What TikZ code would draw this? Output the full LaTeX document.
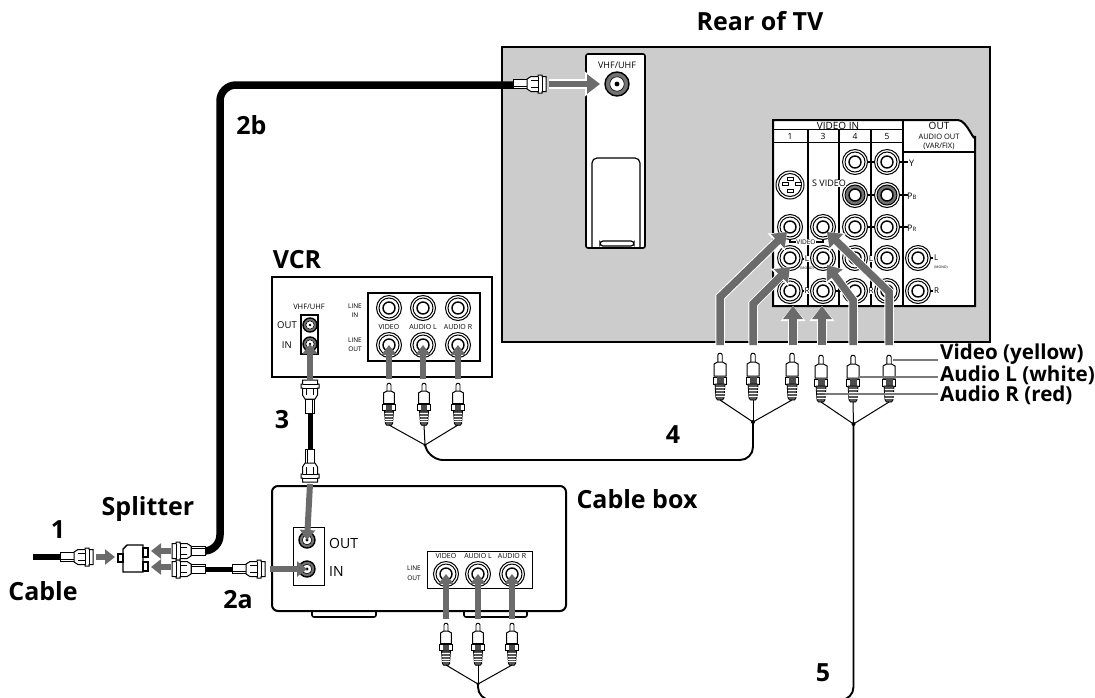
\documentclass[tikz,border=0pt]{standalone}
\usepackage{fontspec}
\setmainfont{Open Sans}
\usetikzlibrary{calc}
\usetikzlibrary{arrows.meta}
\definecolor{panelgray}{gray}{0.8}
\definecolor{feedgray}{gray}{0.42}
\tikzset{
  title/.style={font=\bfseries\fontsize{25}{25}\selectfont, inner sep=0pt},
  tag/.style={font=\bfseries\fontsize{20.6}{20.6}\selectfont, anchor=west, inner sep=0pt},
  small/.style={font=\fontsize{#1}{#1}\selectfont, inner sep=0pt, align=center},
  small/.default=8,
  backed/.style={small=#1, fill=white, inner sep=0.6pt},
  feed/.style={draw=feedgray, line width=7.5pt, -{Triangle[length=13pt,width=19pt]},
    preaction={draw=white, line width=9.5pt, -{Triangle[length=15pt,width=24pt]}}},
  thinfeed/.style={draw=feedgray, line width=6pt, -{Triangle[length=10pt,width=15pt]}},
  leader/.style={draw=feedgray!90, line width=1.5pt},
  wire/.style={line width=1pt},
  cord/.style={line width=1.9pt, rounded corners=13pt},
  coax/.style={line width=#1, rounded corners=16pt},
}
% jacks and plugs, all sizes in pixels of the reference
\newcommand{\rcajack}[2][white]{
  \begin{scope}[shift={(#2)}]
    \filldraw[line width=1pt, fill=white] (0,0) circle (12.5pt);
    \filldraw[line width=1pt, fill=#1] (0,0) circle (10pt);
    \filldraw[line width=1.4pt, fill=white] (0,0) circle (6pt);
  \end{scope}
}
\newcommand{\coaxjack}[2][7]{
  \begin{scope}[shift={(#2)}]
    \filldraw[line width=1.4pt, fill=black!55] (0,0) circle (#1pt);
    \filldraw[line width=0.6pt, fill=white] (0,0) circle (0.6*#1pt);
    \fill (0,0) circle (0.2*#1pt);
  \end{scope}
}
\newcommand{\rcaplug}[2][1]{
  \begin{scope}[shift={(#2)}, scale=#1]
    \filldraw[line width=0.9pt, fill=white, rounded corners=1pt] (-2.2,9) -- (-2.2,1) -- (0,0) -- (2.2,1) -- (2.2,9);
    \filldraw[line width=1pt, fill=white] (-6,23) -- (-6,11) -- (-2.5,9) -- (2.5,9) -- (6,11) -- (6,23) -- cycle;
    \filldraw[line width=1pt, fill=white] (-6.8,24) rectangle (6.8,31);
    \fill[black!70] (-3.5,24) rectangle (3.5,31);
    \filldraw[line width=0.8pt, fill=black!65] (-5,31) -- (5,31) -- (4,45) -- (2.5,47) -- (-2.5,47) -- (-4,45) -- cycle;
    \foreach \y in {34,37,40,43}
      \draw[white, line width=0.7pt] (-4.5,\y) -- (4.5,\y);
  \end{scope}
}
\newcommand{\fplug}[2]{
  \begin{scope}[shift={(#1)}, rotate=#2]
    \filldraw[line width=1pt, fill=white] (0,-4.5) rectangle (14,4.5);
    \draw[line width=0.5pt] (0,2.5) -- (14,2.5);
    \filldraw[line width=1pt, fill=white] (14,-5) -- (18,-7.5) -- (25,-7.5) -- (25,-9) -- (29,-9) -- (29,-7.5) -- (33,-7.5) -- (33,7.5) -- (29,7.5) -- (29,9) -- (25,9) -- (25,7.5) -- (18,7.5) -- (14,5) -- cycle;
    \draw[line width=0.7pt] (25,-7.5) -- (25,7.5) (29,-7.5) -- (29,7.5);
    \draw[line width=0.5pt] (18,3.5) -- (25,3.5) (18,-3.5) -- (25,-3.5);
  \end{scope}
}
\begin{document}
\begin{tikzpicture}[x=1pt, y=-1pt]
  \useasboundingbox (0,0) rectangle (1095,697);
  % named places
  \coordinate (tv-vhf) at (617,84);
  \coordinate (vcr-out) at (310,325);
  \coordinate (vcr-in) at (310,344);
  \coordinate (box-out) at (307,540);
  \coordinate (box-in) at (307,569);
  \coordinate (vcr-hub) at (425,445);
  \coordinate (tv-hub-a) at (753,422);
  \coordinate (tv-hub-b) at (853.5,424);
  \coordinate (box-hub) at (478,684);

  % rear of TV
  \filldraw[line width=2pt, fill=panelgray] (502,47) rectangle (990,342);
  \filldraw[line width=1.6pt, fill=white, rounded corners=2pt] (586,54) rectangle (645,248);
  \draw[line width=1.2pt, rounded corners=5pt] (592,248) -- (592,158) -- (640,158) -- (640,248);
  \draw[line width=1.2pt, rounded corners=3pt] (600,246) -- (600,241) -- (634,241) -- (634,246) -- cycle;
  \node[small=9] (vhf text) at (617,65) {VHF/UHF};
  \coaxjack[12]{tv-vhf}

  % input panel of the TV
  \filldraw[line width=2pt, fill=white] (773,120) -- (958,120) to[out=0, in=-90] (975,136) -- (975,306) -- (773,306) -- cycle;
  \draw[line width=1.8pt] (773,129.5) -- (903,129.5) (773,142.5) -- (903,142.5) (903,152) -- (975,152);
  \foreach \x in {808,839,871}
    \draw[line width=1.8pt] (\x,130) -- (\x,306);
  \draw[line width=1.8pt] (903,120) -- (903,306);
  \node[small=10] (video in) at (838,125.5) {VIDEO IN};
  \node[small=10] (out text) at (939,125.5) {OUT};
  \node[small=8.5] at (790,136.5) (num 1) {1};
  \node[small=8.5] at (823,136.5) (num 3) {3};
  \node[small=8.5] at (855,136.5) (num 4) {4};
  \node[small=8.5] at (887,136.5) (num 5) {5};
  \node[small=7.5] (audio out) at (939,141.5) {AUDIO OUT\\[1.5pt](VAR/FIX)};
  \foreach \name/\x in {a/790,b/823,c/855,d/887,e/918}
    \foreach \row/\y in {1/162,2/195,3/227,4/258,5/291}
      \coordinate (tv-\name\row) at (\x,\y);
  \foreach \y in {162,195,227,258}
    \draw[line width=1.6pt] (865,\y) -- (877,\y);
  \foreach \y in {162,195,227}
    \draw[line width=1.6pt] (897,\y) -- (908,\y);
  \draw[line width=1.6pt] (803,291) -- (806,291) (800,259) -- (804,259) (832,291) -- (845,291) (930,258) -- (933,258) (930,291) -- (933,291);
  \draw[line width=1.6pt] (790,238) -- (790,242) -- (796,242) (815,242) -- (823,242) -- (823,238);
  \foreach \spot in {tv-c1,tv-d1,tv-c3,tv-d3,tv-a3,tv-b3,tv-a4,tv-b4,tv-c4,tv-d4,tv-e4,tv-a5,tv-b5,tv-c5,tv-d5,tv-e5} {
    \rcajack{\spot}
  }
  \rcajack[black!55]{tv-c2}
  \rcajack[black!55]{tv-d2}
  \begin{scope}[shift={(790,185)}]
    \filldraw[line width=1pt, fill=white] (0,0) circle (14pt);
    \filldraw[line width=1pt, fill=white] (0,0) circle (11.5pt);
    \foreach \a/\b in {-3/-8,-8/-3,5/-3,-3/4}
      \filldraw[line width=0.8pt, fill=white] (\a,\b) rectangle ++(6,3.5);
  \end{scope}
  \node[backed=9] (svideo text) at (829,183.5) {S VIDEO};
  \node[small=9, anchor=west] (y text) at (909,163) {Y};
  \node[small=9, anchor=west] (pb text) at (907,196) {P{\fontsize{6}{6}\selectfont B}};
  \node[small=9, anchor=west] (pr text) at (907,228) {P{\fontsize{6}{6}\selectfont R}};
  \node[backed=6.5] (video tag) at (806,242) {VIDEO};
  \node[backed=8] (l tag a) at (807,259) {L};
  \node[backed=8] (l tag b) at (871,259) {L};
  \node[backed=8] (r tag a) at (807,291) {R};
  \node[backed=8] (r tag b) at (871,291) {R};
  \node[small=8, anchor=west] (l tag c) at (934,258) {L};
  \node[small=8, anchor=west] (r tag c) at (934,291) {R};
  \node[small=3.5] (mono a) at (807,269) {(MONO)};
  \node[small=3.5] (mono b) at (941,268) {(MONO)};

  % VCR
  \draw[line width=1.2pt] (272,277) rectangle (492,377);
  \draw[line width=1.2pt] (368,293) rectangle (480,361);
  \draw[line width=1.2pt] (301,315) rectangle (318,354);
  \node[small=7.5] (vcr vhf) at (309,307) {VHF/UHF};
  \node[small=9.5, anchor=east] (vcr out text) at (297,325) {OUT};
  \node[small=9.5, anchor=east] (vcr in text) at (292,345) {IN};
  \node[small=6.5] (vcr line in) at (355,310.5) {LINE\\[3pt]IN};
  \node[small=6.5] (vcr line out) at (355,344.5) {LINE\\[3pt]OUT};
  \coaxjack{vcr-out}
  \coaxjack{vcr-in}
  \foreach \name/\x/\lab in {a/389/VIDEO,b/423/AUDIO L,c/458/AUDIO R} {
    \coordinate (vcr-\name1) at (\x,308);
    \coordinate (vcr-\name2) at (\x,345);
    \rcajack{vcr-\name1}
    \rcajack{vcr-\name2}
    \node[small=7] at (\x,327) {\lab};
  }

  % cable box
  \draw[line width=2pt, rounded corners=6pt] (566,611) -- (566,486) -- (272,486) -- (272,611) -- cycle;
  \draw[line width=1.6pt, rounded corners=2pt] (312,611) -- (312,617) -- (376,617) -- (376,611);
  \draw[line width=1.6pt, rounded corners=2pt] (464,611) -- (464,617) -- (527,617) -- (527,611);
  \draw[line width=0.8pt] (293,527) rectangle (324,585);
  \draw[line width=0.8pt] (427,551) rectangle (532,588);
  \node[small=14, anchor=west] (box out text) at (329,543) {OUT};
  \node[small=14, anchor=west] (box in text) at (329,571) {IN};
  \node[small=6.5] (box line out) at (414,573) {LINE\\[3pt]OUT};
  \coaxjack[8]{box-out}
  \coaxjack[8]{box-in}
  \foreach \name/\x/\lab in {a/446/VIDEO,b/478/AUDIO L,c/512/AUDIO R} {
    \coordinate (box-\name) at (\x,574);
    \rcajack{box-\name}
    \node[small=7] at (\x,556) {\lab};
  }

  % aerial leads
  \draw[coax=6pt] (33,557) -- (62,557);
  \draw[coax=7.5pt] (203,551) -| (220,85) -- (513,85);
  \draw[coax=5pt] (203,569) -- (234,569);
  \draw[line width=5pt] (310,412) -- (310,449);

  % splitter
  \draw[line width=1.2pt] (118,554) rectangle (123,562);
  \draw[line width=1.2pt] (143,548) rectangle (148,557);
  \draw[line width=1.2pt] (143,562) rectangle (148,571);
  \draw[line width=1.4pt] (123,549) -- (127,545) -- (143,545) -- (143,572) -- (123,572) -- cycle;

  % coax plugs
  \fplug{60,557}{0}
  \fplug{205,551}{180}
  \fplug{205,569}{180}
  \fplug{232,569}{0}
  \fplug{513,84}{0}
  \fplug{310,413}{90}
  \fplug{310,449}{-90}

  % feeds into the jacks
  \draw[thinfeed] (96,557) -- (115,557);
  \draw[thinfeed] (171,551) -- (151,551);
  \draw[thinfeed] (171,567) -- (151,567);
  \draw[thinfeed] (270,569) -- (box-in);
  \draw[feed, line width=6pt] (549,84) -- (600,84);
  \draw[thinfeed] (310,381) -- (vcr-in);
  \draw[thinfeed] (310,484) -- (box-out);
  \foreach \name in {a,b,c}
    \draw[thinfeed] ($(vcr-\name2)+(0,34)$) -- (vcr-\name2);
  \foreach \name in {a,b,c}
    \draw[thinfeed] ($(box-\name)+(0,45)$) -- (box-\name);
  \coordinate (tip-a) at (787,232);
  \coordinate (tip-b) at (790,267);
  \coordinate (tip-c) at (793,306);
  \coordinate (tip-d) at (822,306);
  \coordinate (tip-e) at (827,265);
  \coordinate (tip-f) at (827,232);
  \draw[feed] (720,345) -- (720,297) -- (tip-a);
  \draw[feed] (753,345) -- (753,304) -- (tip-b);
  \draw[feed] (793,345) -- (tip-c);
  \draw[feed] (822,345) -- (tip-d);
  \draw[feed] (853,345) -- (853,300) -- (tip-e);
  \draw[feed] (889,345) -- (889,292) -- (tip-f);

  % cords and plugs, the long one runs off the bottom edge
  \draw[cord] (tv-hub-a) -- (753,460) -- (430,460) -- (vcr-hub);
  \draw[cord] (tv-hub-b) -- (853.5,700) -- (478,700) -- (box-hub);
  \foreach \x/\y in {720/353,753/353,792/353,821/355,853/355,889/355} {
    \rcaplug{\x,\y}
  }
  \foreach \x in {720,753,792}
    \draw[wire] (\x,400) -- (tv-hub-a);
  \foreach \x in {821,853,889}
    \draw[wire] (\x,402) -- (tv-hub-b);
  \fill (tv-hub-a) circle (2pt);
  \fill (tv-hub-b) circle (2pt);
  \foreach \x in {389,424,458} {
    \rcaplug[0.9]{\x,383}
    \draw[wire] (\x,425) -- (vcr-hub);
  }
  \fill (vcr-hub) circle (1.6pt);
  \foreach \x in {446,478,512} {
    \rcaplug[0.9]{\x,623}
    \draw[wire] (\x,665) -- (box-hub);
  }
  \fill (box-hub) circle (1.6pt);

  % captions
  \coordinate (video end) at (938,360);
  \coordinate (left end) at (938,377);
  \coordinate (right end) at (938,394);
  \draw[leader] (893,360) -- (video end);
  \draw[leader] (858,377) -- (left end);
  \draw[leader] (825,394) -- (right end);
  \node[tag] (video cap) at (940,354) {Video (yellow)};
  \node[tag] (left cap) at (940,375) {Audio L (white)};
  \node[tag] (right cap) at (940,395) {Audio R (red)};
  \node[title] (rear cap) at (760,21) {Rear of TV};
  \node[title] (vcr cap) at (297,259.5) {VCR};
  \node[title] (box cap) at (637,499) {Cable box};
  \node[title] (splitter cap) at (148,509) {Splitter};
  \node[title] (cable cap) at (43,591) {Cable};
  \node[title] (num a) at (58,530) {1};
  \node[title] (num b) at (251.5,125) {2b};
  \node[title] (num c) at (238,600) {2a};
  \node[title] (num d) at (282,420) {3};
  \node[title] (num e) at (673,435) {4};
  \node[title] (num f) at (823,673) {5};
\end{tikzpicture}
\end{document}
